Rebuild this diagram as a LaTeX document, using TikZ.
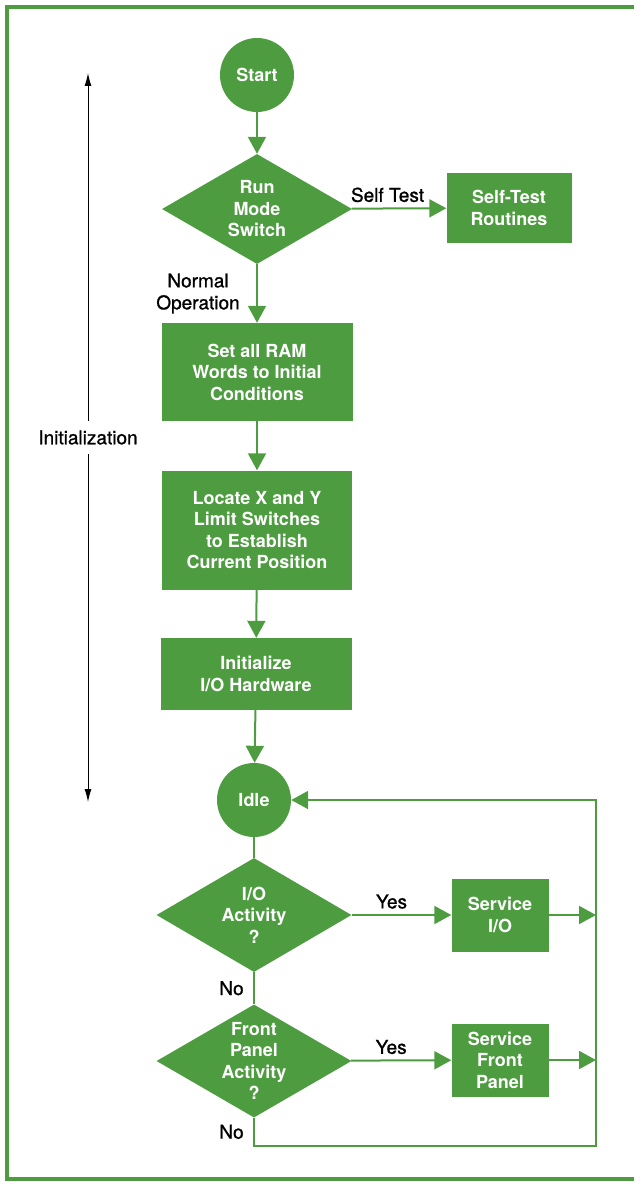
\documentclass[tikz,border=0pt]{standalone}
\usepackage{fontspec}
\setmainfont{TeX Gyre Heros}
\newfontfamily\medfont[FakeBold=1]{TeX Gyre Heros}
\usepackage{tikz}
\usetikzlibrary{shapes.geometric,arrows.meta,positioning}
\definecolor{hpgreen}{RGB}{78,156,64}

\begin{document}
\begin{tikzpicture}[x=1pt,y=-1pt,
  term/.style={circle,fill=hpgreen,text=white,font=\fontsize{18}{21.5}\selectfont\bfseries,minimum size=74pt,inner sep=0pt},
  block/.style={rectangle,fill=hpgreen,text=white,font=\fontsize{18}{21.5}\selectfont\bfseries,align=center,inner sep=0pt},
  decision/.style={diamond,fill=hpgreen,inner sep=0pt},
  wtext/.style={text=white,font=\fontsize{18}{21.5}\selectfont\bfseries,align=center},
  lbl/.style={text=black,font=\medfont\fontsize{19}{22}\selectfont,align=center},
  flow/.style={hpgreen,line width=2pt},
  tip/.style={-{Triangle[length=17pt,width=18pt]}}]
  \useasboundingbox (0,0) rectangle (634,1182);
  \draw[hpgreen,line width=3.5pt] (634,7) -- (7,7) -- (7,1179) -- (634,1179);
  % initialization column
  \node[term] (start) at (257,75) {Start};
  \node[decision,minimum width=190pt,minimum height=110pt,
    label={[wtext]center:Run\\Mode\\Switch}] (rms) at (257,209) {};
  \node[block,minimum width=125pt,minimum height=70pt] (selftest) at (509,208) {Self-Test\\Routines};
  \node[block,minimum width=191pt,minimum height=98pt] (ram) at (257,372) {Set all RAM\\Words to Initial\\Conditions};
  \node[block,minimum width=190pt,minimum height=119pt] (locate) at (257,530) {Locate X and Y\\Limit Switches\\to Establish\\Current Position};
  \node[block,minimum width=191pt,minimum height=72pt] (iohw) at (256,674) {Initialize\\I/O Hardware};
  % idle loop
  \node[term] (idle) at (254,800) {Idle};
  \node[decision,minimum width=195pt,minimum height=114pt,
    label={[wtext]center:I/O\\Activity\\?}] (ioact) at (254,915) {};
  \node[block,minimum width=97pt,minimum height=73pt] (servio) at (500,915) {Service\\I/O};
  \node[decision,minimum width=195pt,minimum height=113pt,
    label={[wtext]center:Front\\Panel\\Activity\\?}] (fpact) at (254,1061) {};
  \node[block,minimum width=97pt,minimum height=73pt] (servfp) at (500,1060) {Service\\Front\\Panel};
  \coordinate (rtop) at (596,800);
  \coordinate (rbot) at (596,1146);
  \coordinate (itop) at (88,73);
  \coordinate (ibot) at (88,802);
  \path[flow]
  (start) edge[tip] (rms)
  (rms) edge[tip] node[lbl,above=2pt,pos=0.38] {Self Test} (selftest)
  (rms) edge[tip] node[lbl,left=13pt] {Normal\\Operation} (ram)
  (ram) edge[tip] (locate)
  (locate) edge[tip] (iohw)
  (iohw) edge[tip] (idle)
  (idle) edge (ioact)
  (ioact) edge[tip] node[lbl,above=2pt,pos=0.4] {Yes} (servio)
  (ioact) edge node[lbl,left=6pt] {No} (fpact)
  (fpact) edge[tip] node[lbl,above=2pt,pos=0.4] {Yes} (servfp)
  (servio) edge[tip] (servio.east -| rtop)
  (servfp) edge[tip] (servfp.east -| rtop);
  \draw[flow,tip] (fpact.south) |- node[lbl,left=6pt,pos=0.25] {No} (rbot) -- (rtop) -- (idle);
  \draw[line width=1pt,{Latex[length=13pt,width=7pt]}-{Latex[length=13pt,width=7pt]}]
    (itop) -- node[lbl,fill=white,inner ysep=9pt] {Initialization} (ibot);
\end{tikzpicture}
\end{document}
